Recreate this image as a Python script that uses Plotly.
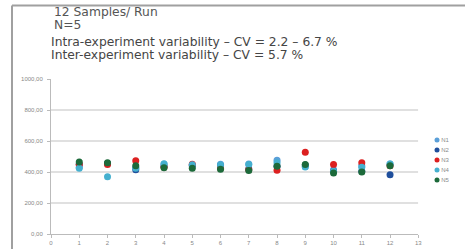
import plotly.graph_objects as go

samples = [1, 2, 3, 4, 5, 6, 7, 8, 9, 10, 11, 12]
N1 = [430, 455, 430, 450, 445, 450, 452, 476, 435, 415, 441, 452]
N2 = [450, 455, 415, 435, 440, 441, 420, 437, 445, 405, 405, 383]
N3 = [448, 448, 472, 430, 450, 425, 415, 411, 528, 448, 459, 441]
N4 = [425, 370, 425, 454, 447, 445, 448, 460, 433, 405, 430, 452]
N5 = [465, 460, 441, 428, 425, 418, 409, 437, 448, 394, 400, 441]
series_names = ["N1", "N2", "N3", "N4", "N5"]
series_vals = [N1, N2, N3, N4, N5]
colors = ["#5a9fd8", "#1f4f9c", "#dc2020", "#45b0cf", "#1c6a3a"]

y_ticks = [0, 200, 400, 600, 800, 1000]
y_labels = ["0,00", "200,00", "400,00", "600,00", "800,00", "1000,00"]
x_ticks = list(range(0, 14))
grid_vals = [200, 400, 600, 800]

W, H = 465, 249
L, R, T, B = 51, 0, 79, 15
pw = W - L - R
ph = H - T - B
plot_right = 418.3

def px(xp):
    return (xp - L) / pw
def py(yp):
    return (H - B - yp) / ph

font = "DejaVu Sans, Liberation Sans, sans-serif"
tfont = "Liberation Sans, Arial, sans-serif"

fig = go.Figure()
for name, vals, c in zip(series_names, series_vals, colors):
    fig.add_trace(go.Scatter(x=samples, y=vals, mode="markers", name=name,
                             marker=dict(size=7, color=c), showlegend=False))

# manual legend (compact)
n = len(series_names)
fig.add_trace(go.Scatter(x=[4] * n, y=list(range(n, 0, -1)), mode="markers+text",
                         text=series_names, textposition="middle right",
                         textfont=dict(size=6, color="#8a8a8a", family=tfont),
                         marker=dict(size=5, color=colors),
                         xaxis="x2", yaxis="y2", showlegend=False, hoverinfo="skip"))

for g in grid_vals:
    fig.add_shape(type="line", xref="x", yref="y", x0=0, x1=13, y0=g, y1=g,
                  line=dict(color="#d6d6d6", width=1.5), layer="below")

texts = [
    ("12 Samples/ Run", 53, 12, 12.3, "#555555"),
    ("N=5", 53, 25.5, 12.3, "#555555"),
    ("Intra-experiment variability \u2013 CV = 2.2 \u2013 6.7 %", 50, 42, 12.3, "#454545"),
    ("Inter-experiment variability \u2013 CV = 5.7 %", 50, 54.5, 12.3, "#454545"),
]
for t, x, y, s, c in texts:
    fig.add_annotation(text=t, xref="paper", yref="paper", x=px(x), y=py(y),
                       xanchor="left", yanchor="middle", showarrow=False, borderpad=0,
                       font=dict(size=s, color=c, family=font))

# slide border
fig.add_shape(type="line", xref="paper", yref="paper", x0=px(12), x1=px(465), y0=py(5.5), y1=py(5.5),
              line=dict(color="#a0a0a0", width=2))
fig.add_shape(type="line", xref="paper", yref="paper", x0=px(12), x1=px(12), y0=py(5.5), y1=py(252),
              line=dict(color="#a0a0a0", width=2))

fig.update_layout(
    width=W, height=H,
    margin=dict(l=L, r=R, t=T, b=B, autoexpand=False),
    paper_bgcolor="white", plot_bgcolor="rgba(0,0,0,0)",
    font=dict(family=tfont, size=6, color="#888888"),
    showlegend=False,
    xaxis=dict(domain=[0, px(plot_right)], range=[0, 13], tickvals=x_ticks, showgrid=False,
               zeroline=False, showline=True, linecolor="#bbbbbb", linewidth=1,
               ticks="outside", ticklen=3, tickcolor="#bbbbbb",
               tickfont=dict(size=6, color="#888888")),
    yaxis=dict(range=[0, 1000], tickvals=y_ticks, ticktext=y_labels, showgrid=False,
               zeroline=False, showline=True, linecolor="#bbbbbb", linewidth=1,
               ticks="outside", ticklen=3, tickcolor="#bbbbbb", ticklabelstandoff=3,
               tickfont=dict(size=6, color="#888888")),
    xaxis2=dict(domain=[px(433), px(463)], range=[0, 30], visible=False, fixedrange=True),
    yaxis2=dict(domain=[py(185), py(135)], range=[0.5, n + 0.5], visible=False,
                anchor="x2", fixedrange=True),
)

fig.write_html("out.html", config={"displayModeBar": False},
               post_script="document.body.style.margin='0';document.body.style.overflow='hidden';")
